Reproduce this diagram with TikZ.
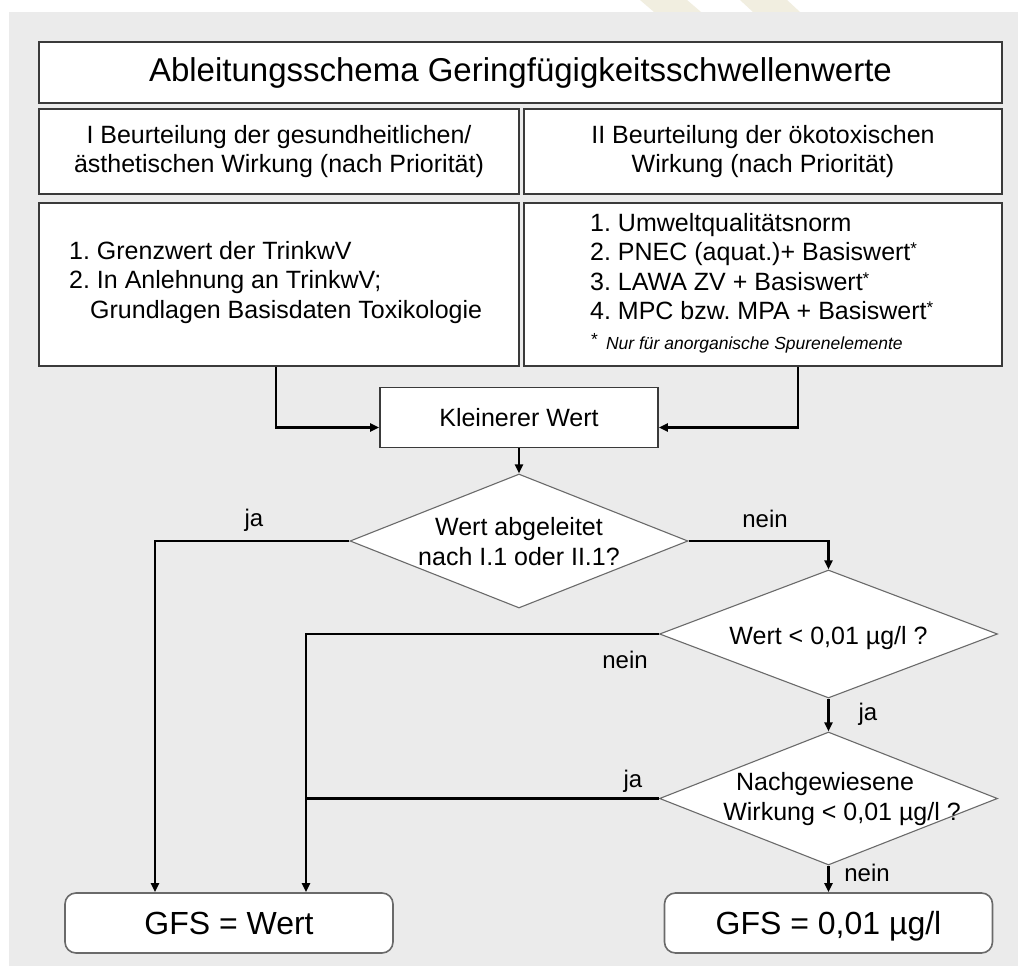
\documentclass[tikz,border=0pt]{standalone}
\usepackage{fontspec}
\setmainfont{Liberation Sans}
\usetikzlibrary{shapes.geometric,arrows.meta,calc}
\definecolor{bg}{HTML}{EBEBEB}
\definecolor{boxc}{HTML}{3A3A3A}
\definecolor{diac}{HTML}{6A6A6A}
\definecolor{wm}{HTML}{F1EEE0}
\newcommand{\myast}{\raisebox{6pt}{\fontsize{17}{17}\selectfont *}}
\frenchspacing
\begin{document}
\frenchspacing
\begin{tikzpicture}[x=1pt,y=-1pt,
  rectbox/.style={draw=boxc, line width=1.8pt, fill=white, inner sep=0pt, align=center},
  roundbox/.style={draw=diac, line width=1.6pt, fill=white, rounded corners=11pt, inner sep=0pt, text height=23pt, text depth=0pt, font=\fontsize{32}{36}\selectfont},
  dia/.style={diamond, draw=diac, line width=1.1pt, fill=white, inner sep=0pt, minimum width=338pt},
  dtext/.style={align=center, inner sep=0pt, font=\fontsize{25}{30}\selectfont},
  body/.style={font=\fontsize{25}{29}\selectfont},
  ctext/.style={align=left, inner sep=0pt, anchor=north west, font=\fontsize{25}{29.5}\selectfont},
  lbl/.style={inner sep=0pt, font=\fontsize{24}{28}\selectfont},
  conn/.style={line width=2.8pt, black},
  arr/.style={conn, -{Triangle[length=9pt,width=8pt]}},
]
\fill[white] (0,0) rectangle (1021,966);
\fill[bg] (9,12) rectangle (1018,966);
\fill[wm] (640,0) -- (687,0) -- (701,12) -- (654,12) -- cycle;
\fill[wm] (740,0) -- (787,0) -- (800,12) -- (753,12) -- cycle;
\useasboundingbox (0,0) rectangle (1021,966);

% boxes
\node[rectbox, minimum width=963pt, minimum height=61pt, font=\fontsize{33}{38}\selectfont] (T) at (520.5,72.5) {Ableitungsschema Geringfügigkeitsschwellenwerte};
\node[rectbox, minimum width=480pt, minimum height=85pt, font=\fontsize{25}{28.5}\selectfont] (H1) at (279,151.5) {I Beurteilung der gesundheitlichen/\\ästhetischen Wirkung (nach Priorität)};
\node[rectbox, minimum width=478pt, minimum height=85pt, font=\fontsize{25}{28.5}\selectfont] (H2) at (763,151.5) {II Beurteilung der ökotoxischen\\Wirkung (nach Priorität)};
\node[rectbox, minimum width=480pt, minimum height=163pt] (C1) at (279,284.5) {};
\node[rectbox, minimum width=478pt, minimum height=163pt] (C2) at (763,284.5) {};
\node[ctext] (C1t) at (69,241) {1. Grenzwert der TrinkwV\\2. In Anlehnung an TrinkwV;\\\hspace*{21pt}Grundlagen Basisdaten Toxikologie};
\node[ctext] (C2t) at (590,213) {1. Umweltqualitätsnorm\\2. PNEC (aquat.)+ Basiswert\myast\\3. LAWA ZV + Basiswert\myast\\4. MPC bzw. MPA + Basiswert\myast};
\node[inner sep=0pt, anchor=base west, font=\fontsize{17.5}{20}\selectfont] (fn) at (591,349) {\raisebox{4pt}{*}\hspace{8pt}\textit{Nur für anorganische Spurenelemente}};

\node[rectbox, minimum width=278pt, minimum height=60pt, body] (KW) at (519,417.5) {Kleinerer Wert};

\node[dia, minimum height=134pt] (D1) at (519,541) {};
\node[dtext] (D1t) at (519,542) {Wert abgeleitet\\nach I.1 oder II.1?};
\node[dia, minimum height=128pt] (D2) at (828.5,634) {};
\node[dtext, text height=18pt, text depth=0pt] (D2t) at (828.5,635) {Wert < 0,01 µg/l ?};
\node[dia, minimum height=133pt] (D3) at (828.5,798.5) {};
\node[dtext] (D3t) at (842,799) {Nachgewiesene\rule{34pt}{0pt}\\Wirkung < 0,01 µg/l ?};

\node[roundbox, minimum width=328pt, minimum height=60pt] (G1) at (229,923) {GFS = Wert};
\node[roundbox, minimum width=328pt, minimum height=60pt] (G2) at (828.5,923) {GFS = 0,01 µg/l};

\coordinate (j1) at ([xshift=-74pt]G1.north);
\coordinate (j2) at ([xshift=77pt]G1.north);

% connectors
\draw[arr] ([xshift=-3pt]C1.south) |- ([yshift=-10pt]KW.west);
\draw[arr] ([xshift=35pt]C2.south) |- ([yshift=-10pt]KW.east);
\draw[arr] (KW.south) -- (D1.north);
\draw[arr] (D1.west) -| (j1);
\draw[arr] (D1.east) -| (D2.north);
\draw[arr] (D2.west) -| (j2);
\draw[conn] (D3.west) -- (D3.west -| j2);
\draw[arr] (D2.south) -- (D3.north);
\draw[arr] (D3.south) -- (G2.north);

% labels
\node[lbl] (L1) at (254,520) {ja};
\node[lbl] (L2) at (765,519) {nein};
\node[lbl] (L3) at (625,660) {nein};
\node[lbl] (L4) at (868,714) {ja};
\node[lbl] (L5) at (633,781) {ja};
\node[lbl] (L6) at (867,873) {nein};
\end{tikzpicture}
\end{document}
